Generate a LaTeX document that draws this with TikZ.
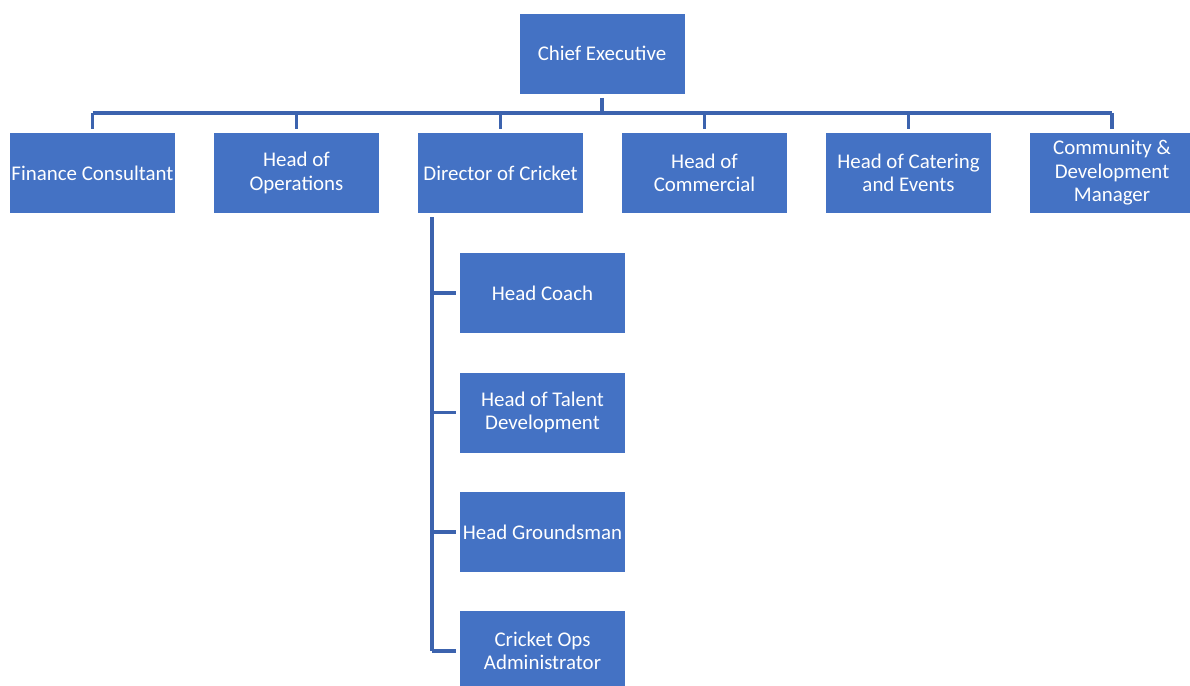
\documentclass[tikz,border=0pt]{standalone}
\usepackage{fontspec}
\setmainfont{Carlito}
\definecolor{boxblue}{HTML}{4472C4}
\definecolor{lineblue}{HTML}{3C63AE}
\begin{document}
\begin{tikzpicture}[x=0.02cm, y=-0.02cm,
  post/.style={fill=boxblue, draw=white, line width=0.4pt, text=white,
    minimum width=3.32cm, minimum height=1.62cm, inner sep=1pt, align=center,
    font=\fontsize{11.9}{13.4}\selectfont},
  link/.style={draw=lineblue, line width=2pt}]
  \useasboundingbox (0,0) rectangle (1190,686);

  % Top post
  \node[post] (ceo) at (602,53.5) {Chief Executive};

  % Second row
  \node[post] (fin) at (92.5,173) {Finance Consultant};
  \node[post] (ops) at (296.5,173) {Head of\\Operations};
  \node[post] (doc) at (500.5,173) {Director of Cricket};
  \node[post] (com) at (704.5,173) {Head of\\Commercial};
  \node[post] (cat) at (908.5,173) {Head of Catering\\and Events};
  \node[post] (cdm) at (1112,173) {Community \&\\Development\\Manager};

  % Under the Director of Cricket
  \node[post] (coach) at (542.5,293) {Head Coach};
  \node[post] (talent) at (542.5,412.5) {Head of Talent\\Development};
  \node[post] (ground) at (542.5,532) {Head Groundsman};
  \node[post] (admin) at (542.5,651) {Cricket Ops\\Administrator};

  % Bus line
  \coordinate (bus) at (0,113);
  \coordinate (trunk) at (432,0);
  \draw[link] ([yshift=-2pt]ceo.south) -- (ceo.south |- bus);
  \draw[link] (fin.north |- bus) -- (cdm.north |- bus);
  \foreach \n in {fin,ops,doc,com,cat,cdm}
    \draw[link] (\n.north |- bus) -- ([yshift=2pt]\n.north);

  % Trunk and stubs
  \draw[link] ([yshift=-2pt]doc.south -| trunk) -- (trunk |- admin.west);
  \foreach \n in {coach,talent,ground,admin}
    \draw[link] (trunk |- \n.west) -- ([xshift=-2pt]\n.west);
\end{tikzpicture}
\end{document}
